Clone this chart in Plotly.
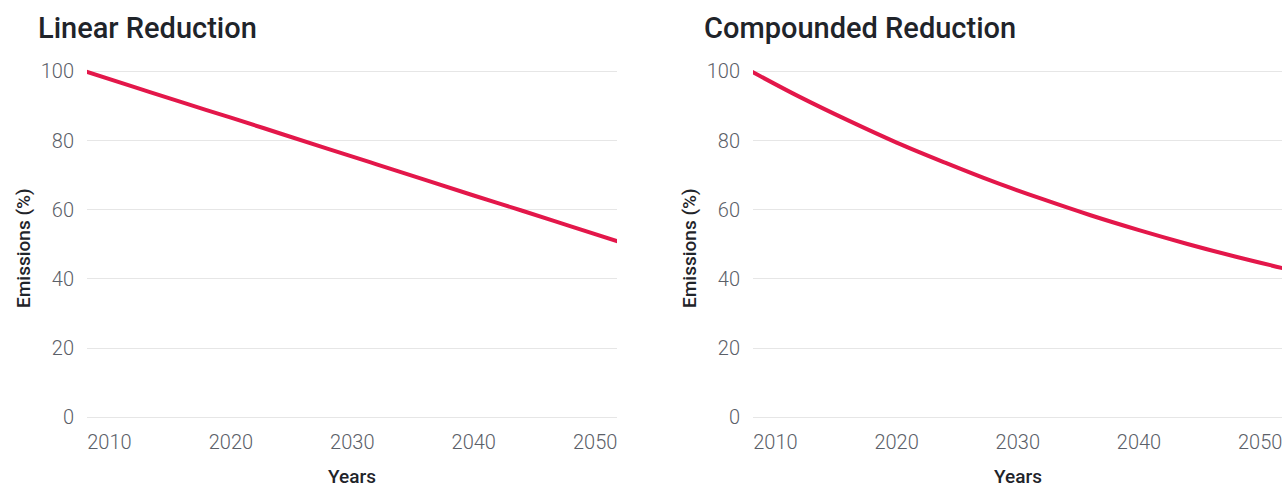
import plotly.graph_objects as go
from plotly.subplots import make_subplots

# ---- data ----
years = [2008, 2012, 2016, 2020, 2024, 2028, 2032, 2036, 2040, 2044, 2048, 2052]
linear_values = [100.0, 95.5, 91.0, 86.6, 82.1, 77.6, 73.1, 68.6, 64.1, 59.7, 55.2, 50.7]
compounded_values = [100.0, 92.6, 85.8, 79.4, 73.6, 68.1, 63.1, 58.4, 54.1, 50.1, 46.4, 43.0]
panel_titles = ["Linear Reduction", "Compounded Reduction"]
x_ticks = [2010, 2020, 2030, 2040, 2050]
y_ticks = [0, 20, 40, 60, 80, 100]
x_title = "Years"
y_title = "Emissions (%)"

W, H = 1287, 488
LINE_COLOR = "#E3174A"
TICK_COLOR = "#5b6068"
DARK = "#1f242a"
GRID = "#e6e6e6"
FONT = "Roboto"

fig = make_subplots(rows=1, cols=2)

for i, vals in enumerate([linear_values, compounded_values]):
    fig.add_trace(
        go.Scatter(x=years, y=vals, mode="lines",
                   line=dict(color=LINE_COLOR, width=4, shape="spline"),
                   showlegend=False, hoverinfo="skip"),
        row=1, col=i + 1)

# pixel geometry of the plot areas
px_left = [(87, 617), (753, 1282)]
y_top_px, y_bot_px = 71.3, 417.3  # pixel rows of y=100 and y=0
unit = (y_bot_px - y_top_px) / 100.0
y_lo, y_hi = -1.0, 102.0
dom_bot = (H - (y_bot_px + (0 - y_lo) * unit)) / H
dom_top = (H - (y_top_px - (y_hi - 100) * unit)) / H

axis_common = dict(
    showline=False, zeroline=False, ticks="", automargin=False,
    showgrid=True, gridcolor=GRID, gridwidth=1,
    tickfont=dict(family=FONT, size=20, color=TICK_COLOR, weight=300),
)

for i in range(2):
    xa = "xaxis" if i == 0 else "xaxis2"
    ya = "yaxis" if i == 0 else "yaxis2"
    l, r = px_left[i]
    fig.layout[xa].update(
        domain=[l / W, r / W], range=[2008.15, 2051.8], automargin=False,
        tickvals=x_ticks, showgrid=False, zeroline=False, showline=False,
        ticks="", ticklabelstandoff=7,
        tickfont=dict(family=FONT, size=20, color=TICK_COLOR, weight=300))
    fig.layout[ya].update(
        domain=[dom_bot, dom_top], range=[y_lo, y_hi], tickvals=y_ticks,
        ticklabelstandoff=12, **axis_common)

annotations = []
title_x = [36, 702]
ytitle_x = [23, 689]
for i in range(2):
    l, r = px_left[i]
    annotations.append(dict(
        text=panel_titles[i], xref="paper", yref="paper",
        x=title_x[i] / W, y=(H - 28) / H, xanchor="left", yanchor="middle",
        showarrow=False, font=dict(family=FONT, size=29, color=DARK, weight=500)))
    annotations.append(dict(
        text=x_title, xref="paper", yref="paper",
        x=((l + r) / 2) / W, y=(H - 476) / H, xanchor="center", yanchor="middle",
        showarrow=False, font=dict(family=FONT, size=19, color=DARK, weight=500)))
    annotations.append(dict(
        text=y_title, xref="paper", yref="paper", textangle=-90,
        x=ytitle_x[i] / W, y=(H - 248) / H, xanchor="center", yanchor="middle",
        showarrow=False, font=dict(family=FONT, size=19, color=DARK, weight=500)))

fig.update_layout(
    width=W, height=H, margin=dict(l=0, r=0, t=0, b=0, autoexpand=False),
    paper_bgcolor="white", plot_bgcolor="white",
    annotations=annotations, font=dict(family=FONT),
)

fig.write_html(
    "out.html",
    config={"displayModeBar": False},
    post_script="document.body.style.margin='0';document.body.style.overflow='hidden';",
)
